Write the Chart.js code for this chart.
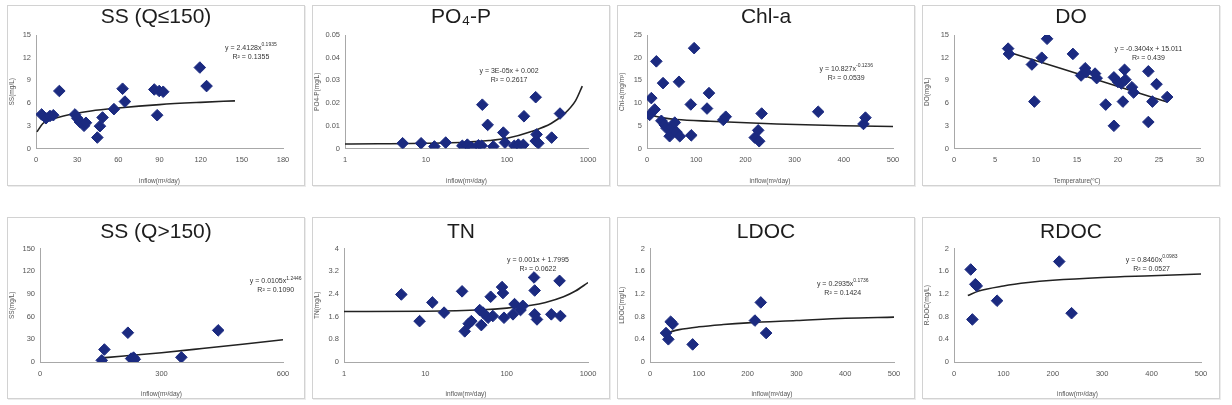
<!doctype html>
<html lang="en">
<head>
<meta charset="utf-8">
<title>Inflow regressions</title>
<script src="https://cdn.jsdelivr.net/npm/chart.js"></script>
<style>
  body { margin: 0; background: #fff; width: 1232px; height: 405px; position: relative; overflow: hidden; }
  .box { position: absolute; border: 1px solid #d2d2d2; box-shadow: 1px 1px 0 #ececec; background: #fff; }
  .box canvas { display: block; }
</style>
</head>
<body>

<div class="box" style="left:7px;top:5px"><canvas id="c1" width="296" height="179"></canvas></div>
<div class="box" style="left:312px;top:5px"><canvas id="c2" width="296" height="179"></canvas></div>
<div class="box" style="left:617px;top:5px"><canvas id="c3" width="296" height="179"></canvas></div>
<div class="box" style="left:922px;top:5px"><canvas id="c4" width="296" height="179"></canvas></div>
<div class="box" style="left:7px;top:217px"><canvas id="c5" width="296" height="180"></canvas></div>
<div class="box" style="left:312px;top:217px"><canvas id="c6" width="296" height="180"></canvas></div>
<div class="box" style="left:617px;top:217px"><canvas id="c7" width="296" height="180"></canvas></div>
<div class="box" style="left:922px;top:217px"><canvas id="c8" width="296" height="180"></canvas></div>

<script>
// SS (Q<=150)
var ssLowX = [4.1, 7.3, 10.2, 12.6, 17, 28.4, 30.1, 32, 35, 36.4, 44.7, 46.6, 48.5, 56.8, 63.1, 64.8, 86.2, 88.3, 89.8, 92.7, 119.4, 124.3];
var ssLowY = [4.5, 4.0, 4.3, 4.4, 7.6, 4.5, 4.0, 3.5, 3.0, 3.4, 1.45, 2.95, 4.1, 5.2, 7.9, 6.2, 7.8, 4.4, 7.6, 7.5, 10.7, 8.25];
var ssLowFitX = [0.7, 5, 10, 20, 40, 60, 90, 120, 145];
var ssLowFitY = [2.2, 3.3, 3.75, 4.3, 4.95, 5.35, 5.8, 6.1, 6.3];
var ssLowXTicks = [0, 30, 60, 90, 120, 150, 180];
var ssLowYTicks = [0, 3, 6, 9, 12, 15];
var ssLowEq = ['y = 2.4128x', '0.1935', 'R² = 0.1355'];

// PO4-P
var po4X = [5.15, 8.7, 12.7, 17.5, 28.1, 32.4, 36.6, 44.3, 48.7, 49.6, 57.7, 67.8, 90.1, 94.4, 123, 138, 159, 162, 226, 226, 232, 244, 356, 451];
var po4Y = [0.0023, 0.0023, 0.0009, 0.0026, 0.0012, 0.0017, 0.0004, 0.0014, 0.0012, 0.0193, 0.0104, 0.0009, 0.007, 0.0026, 0.0012, 0.0017, 0.0016, 0.0142, 0.0226, 0.0033, 0.0062, 0.0023, 0.0048, 0.0154];
var po4FitX = [1, 20, 60, 100, 200, 350, 500, 700, 850];
var po4FitY = [0.002, 0.0025, 0.0035, 0.0045, 0.0075, 0.011, 0.015, 0.021, 0.0275];
var po4XTicks = [1, 10, 100, 1000];
var po4YTicks = [0, 0.01, 0.02, 0.03, 0.04, 0.05];
var po4Eq = ['y = 3E-05x + 0.002', '', 'R² = 0.2617'];

// Chl-a
var chlX = [5.4, 8.8, 15.6, 19, 32.6, 29.2, 36, 39.4, 46, 49.6, 56.4, 60, 65, 66.6, 89, 90, 95.8, 122, 126, 155, 160, 219, 226, 228, 233, 348, 440, 444];
var chlY = [7.4, 11.1, 8.6, 19.2, 14.4, 6.1, 5.2, 4.5, 2.7, 4.7, 5.7, 3.6, 14.7, 2.7, 9.7, 2.9, 22.1, 8.8, 12.2, 6.3, 7.0, 2.4, 4.0, 1.6, 7.7, 8.1, 5.4, 6.8];
var chlFitX = [2, 10, 30, 60, 128, 264, 400, 500];
var chlFitY = [7.8, 7.3, 6.8, 6.4, 6.0, 5.4, 5.0, 4.85];
var chlXTicks = [0, 100, 200, 300, 400, 500];
var chlYTicks = [0, 5, 10, 15, 20, 25];
var chlEq = ['y = 10.827x', '-0.1236', 'R² = 0.0539'];

// DO
var doX = [6.6, 6.7, 9.5, 9.8, 10.7, 11.35, 14.5, 15.5, 16.0, 16.1, 17.2, 17.4, 18.5, 19.5, 19.5, 20.0, 20.4, 20.6, 20.8, 20.9, 21.7, 21.9, 23.7, 23.7, 24.2, 24.7, 26];
var doY = [13.2, 12.5, 11.1, 6.2, 12.0, 14.5, 12.5, 9.65, 10.6, 10.1, 9.9, 9.3, 5.8, 9.4, 3.0, 8.8, 8.6, 6.2, 10.4, 9.1, 8.1, 7.4, 10.2, 3.5, 6.2, 8.5, 6.8];
var doFitX = [6.6, 26];
var doFitY = [12.76, 6.16];
var doXTicks = [0, 5, 10, 15, 20, 25, 30];
var doYTicks = [0, 3, 6, 9, 12, 15];
var doEq = ['y = -0.3404x + 15.011', '', 'R² = 0.439'];

// SS (Q>150)
var ssHighX = [152.5, 159, 217, 225, 231, 234, 349, 440];
var ssHighY = [2.2, 16.5, 38.7, 4.5, 5.8, 3.6, 6.2, 41.8];
var ssHighFitX = [153, 200, 300, 400, 500, 600];
var ssHighFitY = [5.5, 7.5, 12.3, 17.8, 23.5, 29.5];
var ssHighXTicks = [0, 300, 600];
var ssHighYTicks = [0, 30, 60, 90, 120, 150];
var ssHighEq = ['y = 0.0105x', '1.2446', 'R² = 0.1090'];

// TN
var tnX = [5.07, 8.5, 12.2, 17, 28.3, 30.5, 34.1, 36.8, 46.6, 48.8, 51.2, 59, 63.6, 67.6, 87.7, 90, 92.7, 119.6, 125, 148, 158, 217, 221, 221, 236, 354, 447, 458];
var tnY = [2.38, 1.44, 2.1, 1.74, 2.49, 1.08, 1.35, 1.44, 1.83, 1.30, 1.74, 1.56, 2.3, 1.62, 2.64, 2.43, 1.56, 1.68, 2.04, 1.83, 1.98, 2.98, 2.52, 1.68, 1.5, 1.68, 2.86, 1.62];
var tnFitX = [1, 10, 50, 100, 200, 300, 500, 700, 1000];
var tnFitY = [1.78, 1.79, 1.84, 1.9, 2.0, 2.1, 2.3, 2.5, 2.8];
var tnXTicks = [1, 10, 100, 1000];
var tnYTicks = [0, 0.8, 1.6, 2.4, 3.2, 4];
var tnEq = ['y = 0.001x + 1.7995', '', 'R² = 0.0622'];

// LDOC
var ldocX = [32.8, 37.6, 42.3, 46.4, 87.4, 215, 227, 238];
var ldocY = [0.51, 0.40, 0.71, 0.67, 0.31, 0.73, 1.05, 0.51];
var ldocFitX = [33, 60, 100, 150, 200, 300, 400, 500];
var ldocFitY = [0.51, 0.57, 0.62, 0.66, 0.69, 0.73, 0.77, 0.79];
var ldocXTicks = [0, 100, 200, 300, 400, 500];
var ldocYTicks = [0, 0.4, 0.8, 1.2, 1.6, 2];
var ldocEq = ['y = 0.2935x', '0.1736', 'R² = 0.1424'];

// RDOC
var rdocX = [33.8, 37.2, 43.2, 46, 87.2, 213, 238];
var rdocY = [1.63, 0.75, 1.37, 1.34, 1.08, 1.77, 0.86];
var rdocFitX = [28, 50, 100, 150, 200, 300, 400, 500];
var rdocFitY = [1.17, 1.25, 1.34, 1.40, 1.44, 1.49, 1.52, 1.55];
var rdocXTicks = [0, 100, 200, 300, 400, 500];
var rdocYTicks = [0, 0.4, 0.8, 1.2, 1.6, 2];
var rdocEq = ['y = 0.8460x', '0.0983', 'R² = 0.0527'];

var fam = '"Liberation Sans", Arial, sans-serif';
var navy = '#1b2a80';

// panel title (centred on the whole box) + trendline equation
var textPlugin = {
  id: 'txt',
  afterDatasetsDraw: function (chart, args, o) {
    var a = chart.chartArea, ctx = chart.ctx;
    ctx.save();
    ctx.textBaseline = 'middle';
    ctx.textAlign = 'center';
    ctx.fillStyle = '#1d1d1d';
    ctx.font = '21px ' + fam;
    ctx.fillText(o.title, chart.width / 2, o.ty);

    var cx = a.left + o.fx * (a.right - a.left);
    var cy = a.top + o.fy * (a.bottom - a.top);
    ctx.fillStyle = '#333';
    ctx.font = '7px ' + fam;
    var w1 = ctx.measureText(o.eq[0]).width;
    ctx.font = '5px ' + fam;
    var w2 = o.eq[1] ? ctx.measureText(o.eq[1]).width : 0;
    var x0 = cx - (w1 + w2) / 2;
    ctx.textAlign = 'left';
    ctx.font = '7px ' + fam;
    ctx.fillText(o.eq[0], x0, cy);
    if (o.eq[1]) {
      ctx.font = '5px ' + fam;
      ctx.fillText(o.eq[1], x0 + w1, cy - 3);
    }
    ctx.font = '7px ' + fam;
    ctx.textAlign = 'center';
    ctx.fillText(o.eq[2], cx, cy + 9);
    ctx.restore();
  }
};

function axis(type, ticks, title, isX, size) {
  return {
    type: type,
    min: ticks[0],
    max: ticks[ticks.length - 1],
    grid: { display: false, drawTicks: false },
    border: { display: true, color: '#a8a8a8', width: 1 },
    ticks: {
      color: '#555', font: { family: fam, size: 7.5 },
      padding: isX ? 7 : 5, autoSkip: false, maxRotation: 0,
      callback: function (v) { return String(v); }
    },
    afterBuildTicks: function (s) { s.ticks = ticks.map(function (v) { return { value: v }; }); },
    afterFit: function (s) { if (isX) s.height = size; else s.width = size; },
    title: { display: true, text: title, color: '#555', font: { family: fam, size: 6.5 }, padding: 0 }
  };
}

function panel(id, p) {
  var pts = p.x.map(function (v, i) { return { x: v, y: p.y[i] }; });
  var fit = p.fx.map(function (v, i) { return { x: v, y: p.fy[i] }; });
  new Chart(document.getElementById(id), {
    type: 'scatter',
    data: {
      datasets: [
        { data: pts, pointStyle: 'rectRot', pointRadius: 5.8, backgroundColor: navy, borderColor: navy, borderWidth: 1, order: 0 },
        { data: fit, showLine: true, borderColor: '#222', borderWidth: 1.6, pointRadius: 0, cubicInterpolationMode: 'monotone', order: 1 }
      ]
    },
    options: {
      responsive: false,
      animation: false,
      events: [],
      layout: { padding: { left: 0, right: p.right, top: p.top, bottom: 0 } },
      plugins: {
        legend: { display: false },
        tooltip: { enabled: false },
        title: { display: false },
        txt: { title: p.title, ty: p.ty, eq: p.eq, fx: p.ex, fy: p.ey }
      },
      scales: {
        x: axis(p.xType || 'linear', p.xTicks, p.xTitle, true, p.xh),
        y: axis('linear', p.yTicks, p.yTitle, false, p.yw)
      }
    },
    plugins: [textPlugin]
  });
}

var flowTitle = 'inflow(m³/day)';

panel('c1', { title: 'SS (Q≤150)', x: ssLowX, y: ssLowY, fx: ssLowFitX, fy: ssLowFitY, xTicks: ssLowXTicks, yTicks: ssLowYTicks,
  xTitle: flowTitle, yTitle: 'SS(mg/L)', eq: ssLowEq, ex: 0.87, ey: 0.115, yw: 28, right: 21, xh: 36.5, top: 29, ty: 11 });
panel('c2', { title: 'PO₄-P', x: po4X, y: po4Y, fx: po4FitX, fy: po4FitY, xTicks: po4XTicks, yTicks: po4YTicks, xType: 'logarithmic',
  xTitle: flowTitle, yTitle: 'PO4-P(mg/L)', eq: po4Eq, ex: 0.675, ey: 0.32, yw: 32, right: 21, xh: 36.5, top: 29, ty: 11 });
panel('c3', { title: 'Chl-a', x: chlX, y: chlY, fx: chlFitX, fy: chlFitY, xTicks: chlXTicks, yTicks: chlYTicks,
  xTitle: flowTitle, yTitle: 'Chl-a(mg/m³)', eq: chlEq, ex: 0.81, ey: 0.30, yw: 29, right: 21, xh: 36.5, top: 29, ty: 11 });
panel('c4', { title: 'DO', x: doX, y: doY, fx: doFitX, fy: doFitY, xTicks: doXTicks, yTicks: doYTicks,
  xTitle: 'Temperature(℃)', yTitle: 'DO(mg/L)', eq: doEq, ex: 0.79, ey: 0.12, yw: 31, right: 19, xh: 36.5, top: 29, ty: 11 });
panel('c5', { title: 'SS (Q>150)', x: ssHighX, y: ssHighY, fx: ssHighFitX, fy: ssHighFitY, xTicks: ssHighXTicks, yTicks: ssHighYTicks,
  xTitle: flowTitle, yTitle: 'SS(mg/L)', eq: ssHighEq, ex: 0.97, ey: 0.29, yw: 32, right: 21, xh: 36, top: 30.5, ty: 14 });
panel('c6', { title: 'TN', x: tnX, y: tnY, fx: tnFitX, fy: tnFitY, xTicks: tnXTicks, yTicks: tnYTicks, xType: 'logarithmic',
  xTitle: flowTitle, yTitle: 'TN(mg/L)', eq: tnEq, ex: 0.795, ey: 0.10, yw: 31, right: 21, xh: 36, top: 30.5, ty: 14 });
panel('c7', { title: 'LDOC', x: ldocX, y: ldocY, fx: ldocFitX, fy: ldocFitY, xTicks: ldocXTicks, yTicks: ldocYTicks,
  xTitle: flowTitle, yTitle: 'LDOC(mg/L)', eq: ldocEq, ex: 0.79, ey: 0.31, yw: 32, right: 20, xh: 36, top: 30.5, ty: 14 });
panel('c8', { title: 'RDOC', x: rdocX, y: rdocY, fx: rdocFitX, fy: rdocFitY, xTicks: rdocXTicks, yTicks: rdocYTicks,
  xTitle: flowTitle, yTitle: 'R-DOC(mg/L)', eq: rdocEq, ex: 0.80, ey: 0.10, yw: 31, right: 18, xh: 36, top: 30.5, ty: 14 });
</script>
</body>
</html>
